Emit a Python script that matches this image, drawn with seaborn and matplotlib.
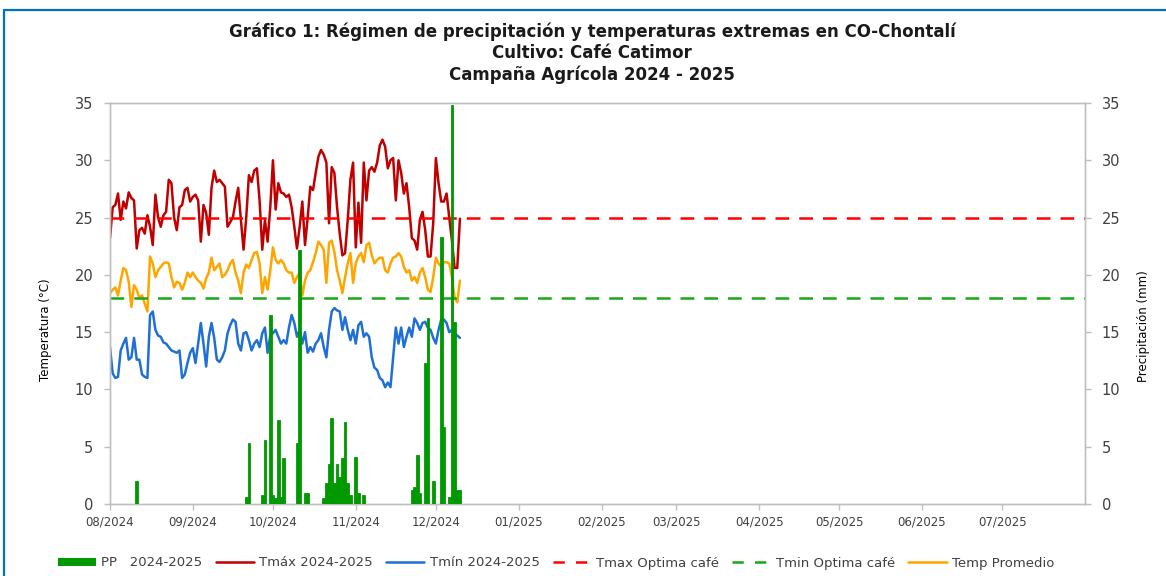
import numpy as np
import pandas as pd
import matplotlib
matplotlib.use("Agg")
import matplotlib.pyplot as plt
from matplotlib.patches import Patch
from matplotlib.lines import Line2D
from matplotlib import font_manager
import seaborn as sns

# ---------------- DATA ----------------
start_date = "2024-08-01"

tmax = [23.2, 25.9, 26.1, 27.1, 24.8, 26.4, 25.8, 27.2, 26.7, 26.5, 22.3, 23.9, 24.1, 23.6, 25.2, 24.2,
        22.6, 27.0, 25.0, 24.2, 25.2, 25.5, 28.3, 28.0, 25.0, 23.9, 25.9, 26.1, 27.4, 27.6, 26.4, 26.8,
        27.0, 26.5, 22.9, 26.1, 25.4, 23.5, 27.6, 29.1, 28.1, 28.3, 28.0, 27.7, 24.2, 24.6, 25.0, 26.4,
        27.6, 24.8, 22.2, 25.0, 28.7, 28.1, 29.1, 29.3, 26.5, 22.2, 24.8, 22.9, 25.9, 30.0, 25.7, 28.0,
        27.2, 27.1,
        26.8, 27.0, 25.9, 24.2, 22.3, 24.2, 26.4, 22.6, 25.0, 27.7, 27.4, 28.9, 30.3, 30.9, 30.5, 29.8,
        24.5, 29.4, 28.9, 25.9, 23.6, 21.7, 21.9, 24.8, 28.3, 29.8, 22.4, 26.3, 22.8, 29.8, 26.5, 29.1,
        29.4, 29.0,
        29.8, 31.3, 31.8, 31.2, 29.3, 30.0, 30.2, 26.5, 30.0, 28.9, 27.1, 28.0, 25.9, 23.2, 23.0, 22.2,
        24.8, 25.5, 23.9, 21.6, 21.6, 24.5, 30.2, 28.0, 26.4, 26.4, 27.1, 25.0, 23.0, 20.6, 20.6, 24.9]

tmin = [13.7, 11.4, 11.0, 11.1, 13.4, 14.0, 14.5, 12.6, 12.8, 14.5, 12.6, 12.6, 11.3, 11.1, 11.0, 16.5,
        16.8, 15.2, 14.7, 14.6, 14.1, 14.0, 13.7, 13.4, 13.3, 13.2, 13.4, 11.0, 11.3, 12.3, 13.2, 13.6,
        12.3, 14.0, 15.8, 14.0, 12.0, 14.6, 15.8, 14.5, 12.6, 12.4, 12.8, 13.4, 14.9, 15.6, 16.1, 15.9,
        14.0, 13.4, 14.9, 15.0, 14.3, 13.4, 14.0, 14.3, 13.7, 14.9, 15.4, 13.2, 14.7, 14.9, 15.2, 14.6,
        14.0, 14.3,
        14.0, 15.4, 16.5, 15.8, 14.6, 15.2, 14.0, 15.0, 13.2, 13.7, 13.3, 14.0, 14.3, 14.9, 13.7, 12.8,
        15.2, 16.8, 17.1, 16.9, 16.8, 15.2, 16.3, 15.2, 14.3, 15.2, 14.0, 15.6, 15.9, 14.6, 14.9, 14.6,
        12.8, 11.9,
        11.7, 11.0, 10.8, 10.2, 10.6, 10.2, 12.8, 15.4, 14.0, 15.4, 13.7, 14.6, 15.4, 14.6, 16.2, 15.8,
        15.2, 15.8, 15.9, 15.4, 15.2, 14.5, 14.0, 15.2, 16.1, 16.1, 15.8, 15.0, 15.2, 14.9, 14.7, 14.5]

tprom = [18.4, 18.7, 18.9, 18.2, 19.5, 20.6, 20.4, 19.4, 17.2, 19.1, 18.7, 18.0, 18.2, 17.5, 16.8, 21.6,
         21.0, 19.8, 20.4, 20.7, 21.0, 21.1, 21.0, 19.8, 18.9, 19.4, 19.3, 18.7, 19.3, 20.2, 19.8, 20.2,
         19.8, 19.5, 19.3, 18.8, 19.7, 20.2, 21.5, 20.4, 20.7, 21.0, 19.8, 20.0, 20.4, 21.0, 21.3, 20.2,
         19.5, 18.4, 20.2, 20.9, 20.6, 21.3, 21.9, 22.0, 21.0, 18.4, 19.8, 18.7, 20.4, 22.4, 21.3, 21.0,
         21.3, 21.0,
         20.4, 20.2, 20.2, 19.3, 19.8, 20.2, 18.2, 19.5, 20.2, 20.4, 21.1, 21.9, 22.9, 22.6, 22.2, 19.3,
         22.8, 23.0, 22.0, 20.4, 19.5, 18.4, 19.8, 21.0, 21.9, 19.3, 21.0, 21.6, 21.9, 21.1, 22.6, 22.8,
         21.7, 21.0,
         21.3, 21.5, 21.5, 20.4, 20.2, 21.0, 21.5, 21.6, 21.9, 21.6, 20.7, 20.2, 20.4, 19.5, 19.8, 19.3,
         20.2, 20.6, 19.8, 18.7, 18.5, 19.8, 21.5, 21.0, 20.7, 21.1, 21.1, 21.0, 19.8, 18.0, 17.6, 19.5]

pp = [0, 0, 0, 0, 0, 0, 0, 0, 0, 0, 2.0, 0, 0, 0, 0, 0,
      0, 0, 0, 0, 0, 0, 0, 0, 0, 0, 0, 0, 0, 0, 0, 0,
      0, 0, 0, 0, 0, 0, 0, 0, 0, 0, 0, 0, 0, 0, 0, 0,
      0, 0, 0, 0.6, 5.3, 0, 0, 0, 0, 0.8, 5.6, 0, 16.5, 0.8, 0.5, 7.3,
      0.6, 4.0, 0, 0, 0, 0, 5.3, 22.2, 0, 1.0, 1.0, 0, 0, 0, 0, 0,
      0.5, 1.8, 3.5, 7.5, 1.8, 3.5, 2.4, 4.0, 7.2, 1.8, 0.8, 0, 4.1, 1.0, 0, 0.8,
      0, 0, 0, 0, 0, 0, 0, 0, 0, 0, 0, 0, 0, 0, 0, 0,
      0, 1.2, 1.5, 4.3, 1.0, 0, 12.3, 16.2, 0, 2.0, 0, 0, 23.3, 6.7, 0, 0.6,
      34.8, 15.9, 1.2, 1.2]

tmax_optima = 25
tmin_optima = 18

month_labels = ["08/2024", "09/2024", "10/2024", "11/2024", "12/2024", "01/2025",
                "02/2025", "03/2025", "04/2025", "05/2025", "06/2025", "07/2025"]

# ---------------- STYLE ----------------
sns.set_theme(style="white")
plt.rcParams["font.family"] = ["DejaVu Sans"]

n = len(tmax)
dates = pd.date_range(start_date, periods=n, freq="D")
df = pd.DataFrame({"fecha": dates, "tmax": tmax[:n], "tmin": tmin[:n],
                   "tprom": tprom[:n], "pp": pp[:n]})

c_tmax = "#C00000"
c_tmin = "#1F6FD6"
c_tprom = "#FFA500"
c_pp = "#009900"
c_red = "#FF0000"
c_green = "#18A818"
axis_gray = "#BFBFBF"
txt_gray = "#404040"
lw = 1.8

fig = plt.figure(figsize=(11.66, 5.76), dpi=100)
ax = fig.add_axes([110 / 1166, 1 - 504 / 576, 975 / 1166, 401 / 576])
ax2 = ax.twinx()

sns.lineplot(data=df, x="fecha", y="tmax", ax=ax, color=c_tmax, linewidth=lw)
sns.lineplot(data=df, x="fecha", y="tmin", ax=ax, color=c_tmin, linewidth=lw)
sns.lineplot(data=df, x="fecha", y="tprom", ax=ax, color=c_tprom, linewidth=lw)
ax.axhline(tmax_optima, color=c_red, linewidth=lw, dashes=(5.5, 4))
ax.axhline(tmin_optima, color=c_green, linewidth=lw, dashes=(5.5, 4))

ax2.bar(df["fecha"], df["pp"], width=1.0, color=c_pp, edgecolor=c_pp, linewidth=0.6, zorder=3)

x0 = pd.Timestamp("2024-08-01")
x1 = pd.Timestamp("2025-08-01")
for a in (ax, ax2):
    a.set_xlim(x0, x1)
    a.set_ylim(0, 35)
    a.set_yticks(range(0, 36, 5))
    a.grid(False)

ticks = pd.date_range("2024-08-01", periods=len(month_labels), freq="MS")
ax.set_xticks(ticks)
ax.set_xticklabels(month_labels)

ax.set_xlabel("")
ax.set_ylabel("")
ax2.set_ylabel("")

for a in (ax, ax2):
    for s in a.spines.values():
        s.set_color(axis_gray)
        s.set_linewidth(1.0)

ax.tick_params(axis="x", which="both", bottom=True, length=4, width=1, color=axis_gray,
               labelsize=8.5, labelcolor=txt_gray, pad=4, direction="out")
ax.tick_params(axis="y", left=True, length=4, width=1, color=axis_gray,
               labelsize=10.5, labelcolor=txt_gray, pad=8, direction="out")
ax2.tick_params(axis="y", right=True, length=4, width=1, color=axis_gray,
                labelsize=10.5, labelcolor=txt_gray, pad=8, direction="out")

# titles
title_lines = ["Gráfico 1: Régimen de precipitación y temperaturas extremas en CO-Chontalí",
               "Cultivo: Café Catimor",
               "Campaña Agrícola 2024 - 2025"]
for i, t in enumerate(title_lines):
    fig.text(592 / 1166, 1 - (32 + 21.5 * i) / 576, t, ha="center", va="center",
             fontsize=12, fontweight="bold", color="#1a1a1a")

fig.text(45 / 1166, 1 - 330 / 576, "Temperatura (°C)", rotation=90, ha="center", va="center",
         fontsize=8.5, color="#000000")
fig.text(1143 / 1166, 1 - 326 / 576, "Precipitación (mm)", rotation=90, ha="center", va="center",
         fontsize=8.5, color="#000000")

handles = [Patch(facecolor=c_pp, edgecolor="none"),
           Line2D([], [], color=c_tmax, linewidth=lw),
           Line2D([], [], color=c_tmin, linewidth=lw),
           Line2D([], [], color=c_red, linewidth=lw, dashes=(4.5, 4.5)),
           Line2D([], [], color=c_green, linewidth=lw, dashes=(4.5, 4.5)),
           Line2D([], [], color=c_tprom, linewidth=lw)]
labels = ["PP   2024-2025", "Tmáx 2024-2025", "Tmín 2024-2025",
          "Tmax Optima café", "Tmin Optima café", "Temp Promedio"]
leg = fig.legend(handles, labels, loc="center", bbox_to_anchor=(556 / 1166, 1 - 563 / 576),
                 ncol=6, frameon=False, fontsize=9.5, handlelength=2.9, handleheight=0.6,
                 handletextpad=0.4, columnspacing=1.0)
for t in leg.get_texts():
    t.set_color(txt_gray)

# outer blue frame
fig.add_artist(Line2D([4 / 1166, 1.0], [1 - 10 / 576, 1 - 10 / 576], transform=fig.transFigure,
                      color="#0070C0", linewidth=1.6))
fig.add_artist(Line2D([4 / 1166, 4 / 1166], [0.0, 1 - 10 / 576], transform=fig.transFigure,
                      color="#0070C0", linewidth=1.6))

fig.savefig("out.png", dpi=100)
